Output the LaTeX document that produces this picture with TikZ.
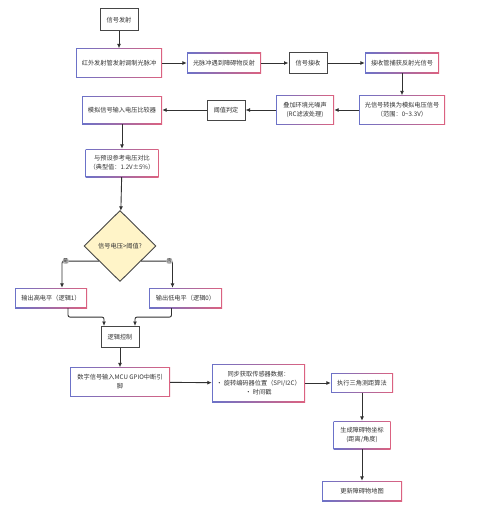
\documentclass[tikz,border=0pt]{standalone}
\usepackage{fontspec}
\setmainfont{Noto Sans CJK SC}
\usetikzlibrary{arrows.meta,shapes.geometric,calc}

\definecolor{bdblue}{RGB}{108,114,200}
\definecolor{bdred}{RGB}{220,98,128}
\definecolor{bdgray}{RGB}{70,70,70}
\definecolor{decfill}{RGB}{255,244,200}

\tikzset{
  gbox/.style={rectangle, align=center, inner sep=1pt, left color=bdblue, right color=bdred,
    path picture={\fill[white] ([shift={(0.9pt,0.9pt)}]path picture bounding box.south west)
      rectangle ([shift={(-0.9pt,-0.9pt)}]path picture bounding box.north east);}},
  pbox/.style={rectangle, draw=bdgray, line width=1pt, fill=white, align=center},
  lbl/.style={fill=black!25, inner sep=0.5pt, font=\fontsize{5}{5}\selectfont},
  conn/.style={draw=bdgray!70!black, line width=0.9pt, rounded corners=2pt,
    -{Latex[length=4.5pt,width=4pt]}}
}

\begin{document}
\begin{tikzpicture}[x=1pt,y=-1pt,font=\fontsize{6.2}{9}\selectfont,text=black!80]
  \useasboundingbox[fill=white] (0,0) rectangle (500,511);

  % top row
  \node[pbox, minimum width=38, minimum height=22] (emit) at (119,20) {信号发射};
  \node[gbox, minimum width=86, minimum height=29] (ir) at (119,63) {红外发射管发射调制光脉冲};
  \node[gbox, minimum width=74, minimum height=20] (refl) at (224,63) {光脉冲遇到障碍物反射};
  \node[pbox, minimum width=38, minimum height=20] (recv) at (308,63) {信号接收};
  \node[gbox, minimum width=74, minimum height=20] (capt) at (402,63) {接收管捕获反射光信号};

  % second row, right to left
  \node[gbox, minimum width=86, minimum height=29] (conv) at (402,110) {光信号转换为模拟电压信号\\（范围：0\textasciitilde 3.3V）};
  \node[gbox, minimum width=58, minimum height=29] (noise) at (305,110) {叠加环境光噪声\\(RC滤波处理)};
  \node[pbox, minimum width=38, minimum height=20] (thr) at (226,110) {阈值判定};
  \node[gbox, minimum width=80, minimum height=28] (cmp) at (122,110) {模拟信号输入电压比较器};

  % decision
  \node[gbox, minimum width=73, minimum height=28] (ref) at (122,163) {与预设参考电压对比\\（典型值：1.2V±5\%）};
  \node[diamond, draw=bdgray, line width=0.9pt, fill=decfill, minimum width=72, minimum height=71, inner sep=0pt] (dec) at (120,246) {信号电压>阈值?};
  \node[gbox, minimum width=72, minimum height=20] (high) at (51,298) {输出高电平（逻辑1）};
  \node[gbox, minimum width=73, minimum height=20] (low) at (185.5,298) {输出低电平（逻辑0）};
  \node[pbox, minimum width=38, minimum height=21] (logic) at (120,337) {逻辑控制};

  % bottom part
  \node[gbox, minimum width=100, minimum height=29] (gpio) at (120,382) {数字信号输入MCU GPIO中断引\\脚};
  \node[gbox, minimum width=93, minimum height=38] (sync) at (258.5,383) {同步获取传感器数据：\\• 旋转编码器位置（SPI/I2C）\\• 时间戳};
  \node[gbox, minimum width=62, minimum height=19] (tri) at (362,383) {执行三角测距算法};
  \node[gbox, minimum width=57, minimum height=28] (coord) at (362,435) {生成障碍物坐标\\(距离/角度)};
  \node[gbox, minimum width=80, minimum height=20] (out) at (362,491) {更新障碍物地图};

  \draw[conn] (emit) -- (ir);
  \draw[conn] (ir) -- (refl);
  \draw[conn] (refl) -- (recv);
  \draw[conn] (recv) -- (capt);
  \draw[conn] (capt) -- (conv);
  \draw[conn] (conv) -- (noise);
  \draw[conn] (noise) -- (thr);
  \draw[conn] (thr) -- (cmp);
  \draw[conn] (cmp) -- (ref);
  \draw[conn] (ref) -- (dec);
  \draw[conn] ($(dec.west)!0.42!(dec.south)$) -| node[lbl, pos=0.45] {是} ([xshift=11pt]high.north);
  \draw[conn] ($(dec.east)!0.42!(dec.south)$) -| node[lbl, pos=0.45] {否} ([xshift=-13pt]low.north);
  \draw[conn] ([xshift=17pt]high.south) |- ($(high.south)!0.5!(logic.north)$) -| ([xshift=-16pt]logic.north);
  \draw[conn] ([xshift=-14pt]low.south) |- ($(low.south)!0.5!(logic.north)$) -| ([xshift=15pt]logic.north);
  \draw[conn] (logic) -- (gpio);
  \draw[conn] (gpio) -- (sync);
  \draw[conn] (sync) -- (tri);
  \draw[conn] (tri) -- (coord);
  \draw[conn] (coord) -- (out);
\end{tikzpicture}
\end{document}
